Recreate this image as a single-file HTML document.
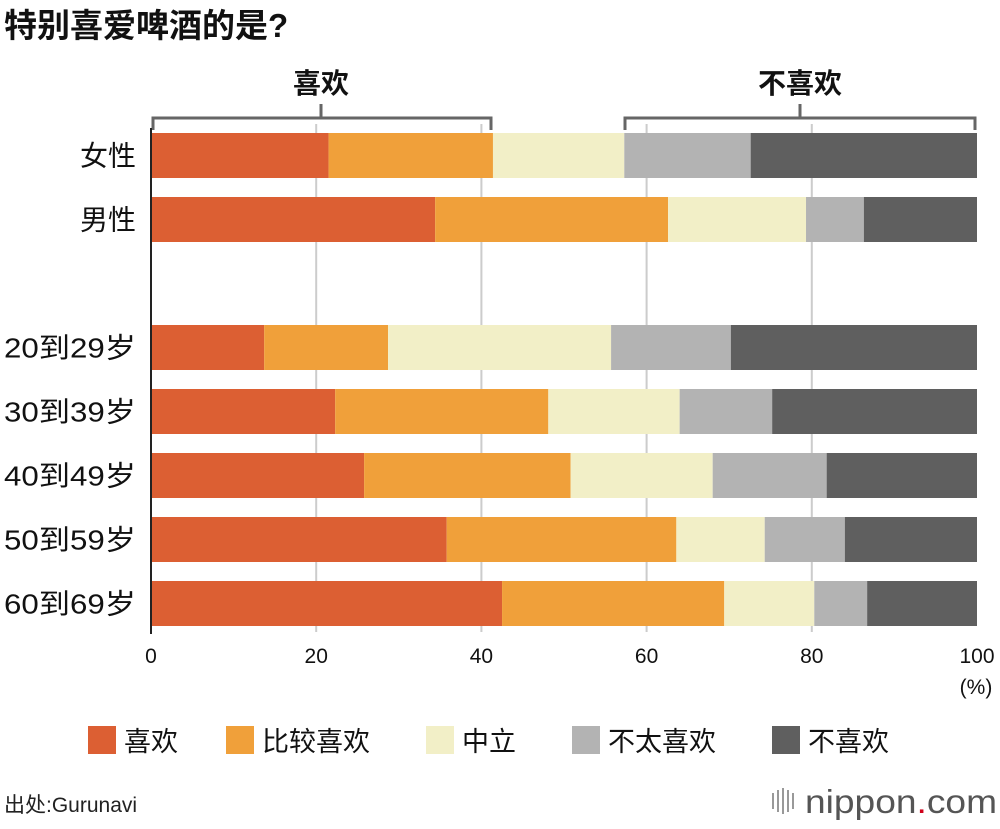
<!DOCTYPE html>
<html><head><meta charset="utf-8"><style>
body{margin:0;background:#fff;font-family:"Liberation Sans","Noto Sans CJK SC",sans-serif;}
svg text{font-family:"Liberation Sans","Noto Sans CJK SC",sans-serif;}
</style></head><body>
<svg id="c" width="1000" height="824" xmlns="http://www.w3.org/2000/svg">
<text x="4" y="37" font-size="33" font-weight="bold" fill="#111">特别喜爱啤酒的是?</text>
<g id="grid"></g>
<g id="brackets" stroke="#666" stroke-width="3" fill="none">
<path d="M153,130 V118 H491 V130 M321,118 V104"/>
<path d="M625,130 V118 H975 V130 M800,118 V104"/>
</g>
<text x="321" y="93" font-size="28" font-weight="bold" text-anchor="middle" fill="#111">喜欢</text>
<text x="800" y="93" font-size="28" font-weight="bold" text-anchor="middle" fill="#111">不喜欢</text>
<g id="bars"></g>
<g id="axis"></g>
<text x="976" y="694" font-size="21" text-anchor="middle" fill="#111">(%)</text>
<g id="legend"></g>
<text x="4" y="812" font-size="21" fill="#222">出处:Gurunavi</text>
<g>
<g fill="#999"><rect x="772" y="793" width="2" height="16"/><rect x="777" y="790" width="2" height="22"/><rect x="782" y="788" width="2" height="26"/><rect x="787" y="790" width="2" height="22"/><rect x="792" y="793" width="2" height="16"/></g>
<text x="805" y="813" font-size="33" fill="#555" textLength="192" lengthAdjust="spacingAndGlyphs">nippon<tspan fill="#d0021b">.</tspan>com</text>
</g>
</svg>
<script>
const categories=["女性","男性","20到29岁","30到39岁","40到49岁","50到59岁","60到69岁"];
const seriesNames=["喜欢","比较喜欢","中立","不太喜欢","不喜欢"];
const s1=[21.5,34.4,13.7,22.3,25.8,35.8,42.5];
const s2=[19.9,28.2,15.0,25.8,25.0,27.8,26.9];
const s3=[15.9,16.7,27.0,15.9,17.2,10.7,10.9];
const s4=[15.3,7.0,14.5,11.2,13.8,9.7,6.4];
const s5=[27.4,13.7,29.8,24.8,18.2,16.0,13.3];
const ticks=[0,20,40,60,80,100];
const colors=["#dc5f33","#f0a03a","#f2efc7","#b3b3b3","#5f5f5f"];
const NS="http://www.w3.org/2000/svg";
const x=v=>151+v*8.26;
const rowTop=[133,197,325,389,453,517,581];
const y=i=>rowTop[i];
const bh=45;
function mk(t,a,p){const e=document.createElementNS(NS,t);for(const k in a)e.setAttribute(k,a[k]);p.appendChild(e);return e;}
const grid=document.getElementById('grid');
ticks.forEach(t=>{if(t>0&&t<100){const l=mk('line',{x1:x(t),x2:x(t),y1:124,y2:632,stroke:'#ccc','stroke-width':2},grid);

}});
const bars=document.getElementById('bars');
const series=[s1,s2,s3,s4,s5];
categories.forEach((c,i)=>{let acc=0;
 const lab=mk('text',{x:136,y:y(i)+bh/2+10,'font-size':28,'text-anchor':'end',fill:'#111'},bars);
 if(c.length>3){lab.setAttribute('textLength',132);lab.setAttribute('lengthAdjust','spacingAndGlyphs');}
 lab.textContent=c;
 
 
 series.forEach((s,j)=>{const r=mk('rect',{x:x(acc),y:y(i),width:x(acc+s[i])-x(acc),height:bh,fill:colors[j]},bars);
 
 
 acc+=s[i];});
});
const ax=document.getElementById('axis');
const al=mk('line',{x1:151,x2:151,y1:128,y2:634,stroke:'#222','stroke-width':2},ax);


ticks.forEach(t=>{const tx=mk('text',{x:x(t),y:663,'font-size':21,'text-anchor':'middle',fill:'#111'},ax);tx.textContent=t;

});
const lg=document.getElementById('legend');
const lx=[88,226,426,572,772];
seriesNames.forEach((n,j)=>{const r=mk('rect',{x:lx[j],y:726,width:28,height:28,fill:colors[j]},lg);


const t=mk('text',{x:lx[j]+36,y:751,'font-size':27,fill:'#111'},lg);t.textContent=n;

});
</script>
</body></html>
